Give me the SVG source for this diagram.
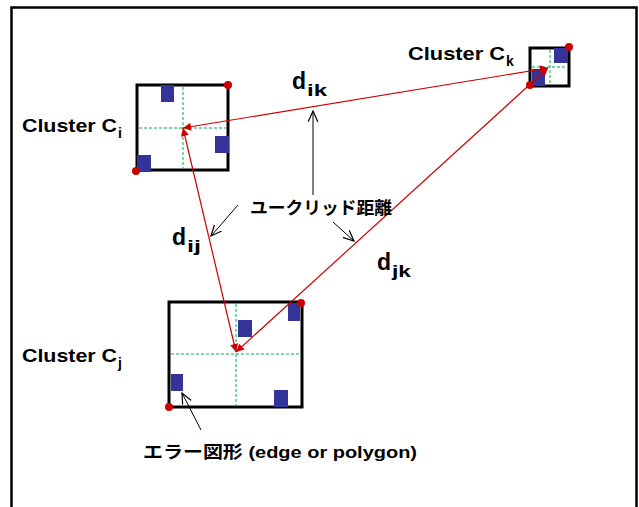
<svg xmlns="http://www.w3.org/2000/svg" width="639" height="507" viewBox="0 0 639 507">
<defs>
<style>
.frame{fill:none;stroke:#000;stroke-width:2.5}
.box{fill:#fff;stroke:#000;stroke-width:3}
.axis{stroke:#00b050;stroke-width:1;stroke-dasharray:3,2;fill:none}
.err{fill:#333399}
.dot{fill:#cc0000}
.dist{stroke:#cc0000;stroke-width:1.2;fill:none;marker-start:url(#ra);marker-end:url(#ra)}
.ptr{stroke:#000;stroke-width:1;fill:none;marker-end:url(#oa)}
.lbl{font-family:"Liberation Sans",Arial,sans-serif;font-weight:bold;fill:#000}
.jp{font-family:"Liberation Sans","Noto Sans CJK JP",sans-serif;font-weight:bold;fill:#000}
</style>
<marker id="ra" viewBox="0 0 10 10" refX="10" refY="5" markerWidth="10" markerHeight="8" markerUnits="userSpaceOnUse" orient="auto-start-reverse">
<path d="M0,0 L10,5 L0,10 z" fill="#cc0000"/>
</marker>
<marker id="oa" viewBox="0 0 10 10" refX="9" refY="5" markerWidth="12" markerHeight="12" markerUnits="userSpaceOnUse" orient="auto">
<path d="M0,1 L9,5 L0,9" fill="none" stroke="#000" stroke-width="1"/>
</marker>
</defs>
<rect class="frame" x="11.5" y="7.5" width="625" height="520"/>

<g id="cluster-i">
<rect class="box" x="137" y="85" width="91" height="85"/>
<line class="axis" x1="183" y1="87" x2="183" y2="168"/>
<line class="axis" x1="139" y1="128" x2="226" y2="128"/>
<rect class="err" x="161" y="85" width="13" height="17"/>
<rect class="err" x="215" y="136" width="14" height="17"/>
<rect class="err" x="137" y="155" width="14" height="17"/>
<circle class="dot" cx="228" cy="85" r="4"/>
<circle class="dot" cx="136" cy="171" r="4"/>
<text class="lbl" x="22" y="132" font-size="19" textLength="95" lengthAdjust="spacingAndGlyphs">Cluster C</text>
<text class="lbl" x="118" y="138" font-size="14">i</text>
</g>

<g id="cluster-k">
<rect class="box" x="530" y="48" width="39" height="38"/>
<line class="axis" x1="550" y1="50" x2="550" y2="84"/>
<line class="axis" x1="532" y1="67" x2="567" y2="67"/>
<rect class="err" x="554" y="48" width="14" height="15"/>
<rect class="err" x="532" y="69" width="13" height="17"/>
<circle class="dot" cx="569" cy="47" r="4"/>
<circle class="dot" cx="530" cy="85" r="4"/>
<text class="lbl" x="408" y="60" font-size="19" textLength="97" lengthAdjust="spacingAndGlyphs">Cluster C</text>
<text class="lbl" x="506" y="66" font-size="14">k</text>
</g>

<g id="cluster-j">
<rect class="box" x="169" y="302" width="133" height="105"/>
<line class="axis" x1="236" y1="304" x2="236" y2="405"/>
<line class="axis" x1="171" y1="354" x2="300" y2="354"/>
<rect class="err" x="238" y="320" width="14" height="17"/>
<rect class="err" x="288" y="303" width="12" height="18"/>
<rect class="err" x="171" y="374" width="12" height="17"/>
<rect class="err" x="274" y="390" width="14" height="17"/>
<circle class="dot" cx="301" cy="303" r="4"/>
<circle class="dot" cx="169" cy="407" r="4"/>
<text class="lbl" x="22" y="362" font-size="19" textLength="95" lengthAdjust="spacingAndGlyphs">Cluster C</text>
<text class="lbl" x="118" y="368" font-size="14">j</text>
</g>

<g id="connectors">
<line class="dist" x1="183" y1="128" x2="548" y2="68"/>
<line class="dist" x1="183" y1="128" x2="236" y2="352"/>
<line class="dist" x1="236" y1="352" x2="548" y2="68"/>
<line class="ptr" x1="313" y1="195" x2="313" y2="111"/>
<line class="ptr" x1="238" y1="205" x2="211" y2="236"/>
<line class="ptr" x1="333" y1="222" x2="354" y2="241"/>
<line class="ptr" x1="201" y1="430" x2="182" y2="393"/>
</g>

<g id="labels">
<text class="lbl" x="292" y="89" font-size="23">d</text>
<text class="lbl" x="307" y="96" font-size="17" textLength="20" lengthAdjust="spacingAndGlyphs">ik</text>
<text class="lbl" x="172" y="245" font-size="23">d</text>
<text class="lbl" x="187" y="252" font-size="17" textLength="14" lengthAdjust="spacingAndGlyphs">ij</text>
<text class="lbl" x="377" y="270" font-size="23">d</text>
<text class="lbl" x="392" y="277" font-size="17" textLength="19" lengthAdjust="spacingAndGlyphs">jk</text>
<text class="jp" x="250" y="214" font-size="17.5" textLength="142" lengthAdjust="spacingAndGlyphs">ユークリッド距離</text>
<text class="jp" x="143" y="458" font-size="17" textLength="274" lengthAdjust="spacingAndGlyphs">エラー図形 (edge or polygon)</text>
</g>
</svg>
